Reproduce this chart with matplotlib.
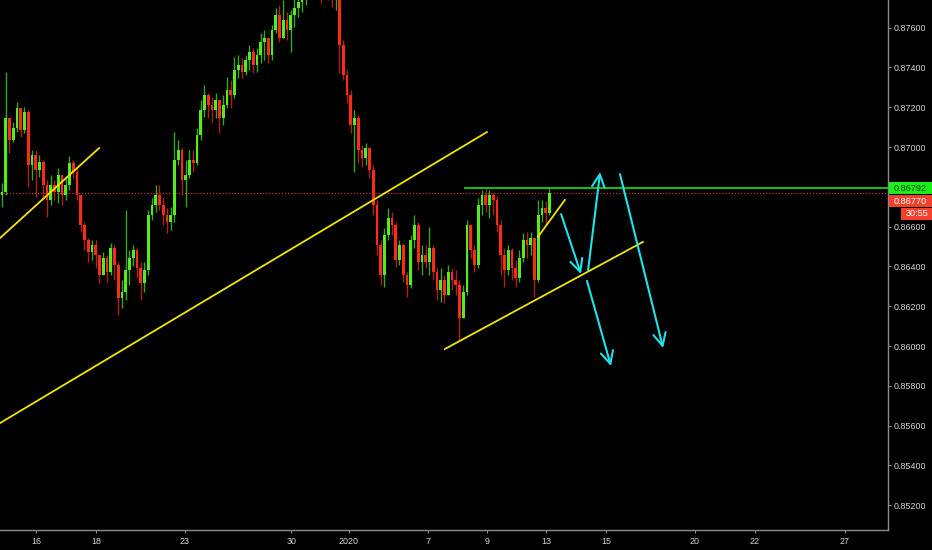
import numpy as np
import matplotlib
matplotlib.use('Agg')
import matplotlib.pyplot as plt
from matplotlib.patches import Rectangle
from matplotlib.transforms import blended_transform_factory

# 3h candles, prices in 1e-5 units (EUR/GBP style quote)
first_open = 86760
closes = [86774, 87146, 87035, 87095, 87196, 87085, 87176, 86909, 86960, 86884,
          86925, 86808, 86734, 86808, 86774, 86859, 86759, 86808, 86920, 86874,
          86759, 86608, 86533, 86472, 86508, 86457, 86357, 86442, 86372, 86492,
          86407, 86241, 86271, 86382, 86442, 86482, 86392, 86317, 86382, 86658,
          86709, 86759, 86709, 86658, 86623, 86658, 86935, 86985, 86834, 86859,
          86935, 86920, 87060, 87186, 87261, 87211, 87186, 87236, 87146, 87211,
          87286, 87261, 87387, 87412, 87377, 87437, 87477, 87412, 87462, 87528,
          87548, 87462, 87588, 87663, 87548, 87638, 87588, 87663, 87698, 87729,
          87764, 87814, 87839, 87864, 87814, 87789, 87839, 87799, 87764, 87779,
          87513, 87362, 87261, 87111, 87146, 86985, 86945, 86995, 86884, 86709,
          86508, 86357, 86558, 86643, 86608, 86432, 86508, 86357, 86307, 86533,
          86608, 86422, 86457, 86422, 86492, 86372, 86282, 86332, 86256, 86372,
          86332, 86307, 86141, 86271, 86608, 86482, 86407, 86709, 86759, 86709,
          86759, 86734, 86608, 86457, 86382, 86482, 86392, 86342, 86442, 86533,
          86508, 86543, 86332, 86658, 86694, 86668, 86770]
highs = [86819, 87377, 87146, 87126, 87226, 87186, 87201, 87186, 86985, 86985,
         86960, 86935, 86834, 86859, 86834, 86894, 86859, 86844, 86955, 86935,
         86894, 86759, 86623, 86543, 86533, 86533, 86457, 86472, 86457, 86518,
         86508, 86422, 86332, 86683, 86482, 86508, 86492, 86422, 86422, 86683,
         86744, 86808, 86808, 86749, 86694, 86699, 87075, 87035, 86995, 86935,
         86985, 86985, 87095, 87236, 87311, 87271, 87251, 87271, 87236, 87261,
         87352, 87337, 87452, 87462, 87447, 87462, 87513, 87498, 87498, 87573,
         87588, 87553, 87613, 87698, 87714, 87739, 87678, 87688, 87764, 87814,
         87839, 87864, 87889, 87915, 87889, 87864, 87889, 87864, 87814, 87814,
         87789, 87538, 87387, 87286, 87186, 87161, 87010, 87020, 87000, 86909,
         86734, 86533, 86593, 86694, 86673, 86623, 86533, 86518, 86372, 86558,
         86658, 86623, 86508, 86508, 86598, 86508, 86392, 86392, 86357, 86407,
         86392, 86382, 86332, 86307, 86633, 86608, 86508, 86744, 86784, 86792,
         86784, 86769, 86754, 86633, 86492, 86508, 86492, 86432, 86482, 86568,
         86573, 86573, 86543, 86734, 86734, 86729, 86792]
lows = [86699, 86759, 86970, 87025, 87075, 87050, 87070, 86798, 86834, 86749,
        86849, 86734, 86648, 86709, 86734, 86719, 86709, 86734, 86784, 86844,
        86734, 86573, 86482, 86422, 86432, 86392, 86317, 86357, 86322, 86357,
        86332, 86156, 86191, 86231, 86307, 86402, 86342, 86231, 86271, 86357,
        86633, 86673, 86683, 86608, 86568, 86583, 86623, 86909, 86759, 86699,
        86844, 86874, 86909, 87035, 87151, 87146, 87126, 87146, 87070, 87111,
        87196, 87196, 87246, 87347, 87347, 87362, 87387, 87372, 87377, 87422,
        87437, 87422, 87437, 87573, 87528, 87588, 87538, 87477, 87603, 87653,
        87678, 87714, 87779, 87799, 87764, 87724, 87764, 87739, 87703, 87688,
        87372, 87337, 87221, 87070, 86874, 86920, 86899, 86909, 86844, 86658,
        86457, 86307, 86297, 86533, 86558, 86397, 86407, 86322, 86246, 86292,
        86492, 86382, 86357, 86392, 86357, 86332, 86231, 86221, 86216, 86271,
        86282, 86256, 86030, 86231, 86256, 86442, 86372, 86392, 86658, 86673,
        86643, 86658, 86573, 86357, 86297, 86357, 86332, 86297, 86322, 86422,
        86442, 86457, 86246, 86322, 86623, 86608, 86658]

day_labels = ['16', '18', '23', '30', '2020', '7', '9', '13', '15', '20', '22', '27']
day_pos = [9.1, 25.1, 48.8, 77.1, 92.5, 113.6, 129.3, 145.1, 161.1, 184.8, 200.8, 224.8]

# drawings: (bar, price) anchors
yellow_lines = [[(-0.5, 0.86543), (25.9, 0.86995)],
                [(-0.5, 0.85613), (129.3, 0.87075)],
                [(118.1, 0.85985), (170.9, 0.86523)],
                [(142.9, 0.86548), (150.1, 0.86734)]]
cyan_arrows = [[(149.1, 0.86663), (154.4, 0.86362)],
               [(156.3, 0.86382), (159.5, 0.86874)],
               [(156.0, 0.86327), (162.4, 0.85899)],
               [(164.8, 0.86864), (176.3, 0.85990)]]
resistance = 0.86792
resistance_start = 123.5
last_price = 0.86770
countdown = '30:55'

c = np.array(closes) / 1e5
o = np.r_[first_open, closes[:-1]] / 1e5
h = np.maximum(np.array(highs) / 1e5, np.maximum(o, c))
l = np.minimum(np.array(lows) / 1e5, np.minimum(o, c))
x = np.arange(len(c))
up = c >= o

plt.rcParams['font.family'] = ['Liberation Sans', 'DejaVu Sans']
fig = plt.figure(figsize=(9.32, 5.5), dpi=100, facecolor='black')
ax = fig.add_axes([0, 20 / 550, 888 / 932, 530 / 550], facecolor='black')

ylo, yhi = 0.850754, 0.87739
ax.set_xlim(-0.53, 236.27)
ax.set_ylim(ylo, yhi)

# red dotted last price line
ax.axhline(last_price, color='#c0392b', lw=0.9, ls=(0, (1, 1.5)), zorder=1)

# candles
ax.vlines(x[up], l[up], h[up], color='#34a81e', lw=1.0, zorder=2)
ax.vlines(x[~up], l[~up], h[~up], color='#b02015', lw=1.0, zorder=2)
body_lo = np.minimum(o, c)
body_h = np.maximum(np.abs(c - o), 0.00003)
ax.bar(x[up], body_h[up], 0.7, bottom=body_lo[up], color='#52ee1c', lw=0, zorder=3)
ax.bar(x[~up], body_h[~up], 0.7, bottom=body_lo[~up], color='#ff2a16', lw=0, zorder=3)

# resistance ray
ax.plot([resistance_start, 236.27], [resistance, resistance], color='#12c40f', lw=1.4, zorder=4)

for seg in yellow_lines:
    (x0, y0), (x1, y1) = seg
    ax.plot([x0, x1], [y0, y1], color='#f2e600', lw=1.3, zorder=5)

for seg in cyan_arrows:
    (x0, y0), (x1, y1) = seg
    ax.annotate('', xy=(x1, y1), xytext=(x0, y0),
                arrowprops=dict(arrowstyle='->, head_length=0.6, head_width=0.3',
                                color='#1de4e8', lw=1.5, shrinkA=0, shrinkB=0,
                                mutation_scale=15), zorder=6)

# axes styling
for s in ['top', 'left']:
    ax.spines[s].set_visible(False)
for s in ['right', 'bottom']:
    ax.spines[s].set_color('#8c8c8c')
    ax.spines[s].set_linewidth(1.0)
ax.yaxis.tick_right()
# 0.86800 sits under the price boxes, so it is not shown
yt = [t for t in np.arange(0.852, 0.8761, 0.002) if abs(t - 0.868) > 1e-6]
ax.set_yticks(yt)
ax.yaxis.set_major_formatter(plt.FormatStrFormatter('%.5f'))
ax.set_xticks(day_pos, day_labels)
ax.tick_params(axis='y', colors='#8c8c8c', labelcolor='#d6d6d6', length=2.2, pad=2.2, labelsize=6.4)
ax.tick_params(axis='x', colors='#8c8c8c', labelcolor='#d6d6d6', length=2, pad=3, labelsize=6.4)

# price boxes on the scale
tr = blended_transform_factory(ax.transAxes, ax.transData)
px = (yhi - ylo) / 530
boxes = [(resistance, 0, '%.5f' % resistance, '#18f018', '#0d3d0d'),
         (last_price - 8.5 * px, 0, '%.5f' % last_price, '#f2402c', 'white'),
         (last_price - 21 * px, 12, countdown, '#f2402c', 'white')]
for yc, dx, txt, fc, tc in boxes:
    x0 = 1.0 + (1 + dx) / 888
    ax.add_patch(Rectangle((x0, yc - 6 * px), 60 / 888, 12 * px, transform=tr,
                           facecolor=fc, edgecolor='none', clip_on=False, zorder=10))
    ax.text(x0 + 5 / 888, yc, txt, transform=tr, color=tc, fontsize=6.6,
            va='center', ha='left', zorder=11, clip_on=False)

fig.savefig('out.png', dpi=100, facecolor='black')
